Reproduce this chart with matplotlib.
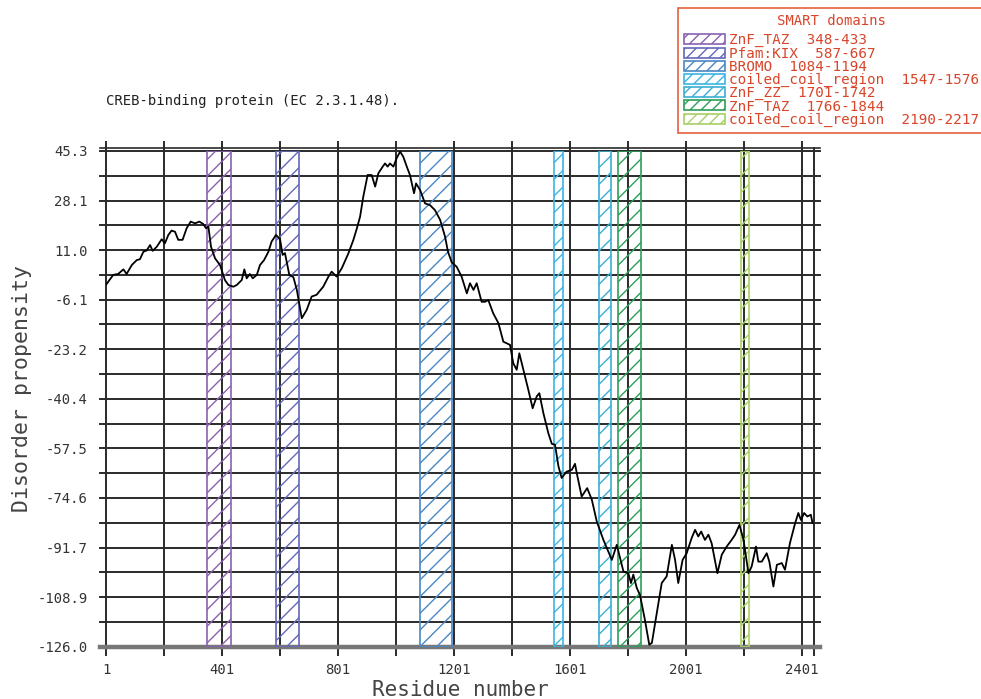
import matplotlib
matplotlib.use("Agg")
import matplotlib.pyplot as plt
import matplotlib.patches as mpatches
import numpy as np

plt.rcParams['font.family'] = ['DejaVu Sans Mono']
plt.rcParams['hatch.linewidth'] = 1.0

# disorder profile
residues = [2, 26, 43, 61, 72, 90, 107, 118, 130, 141, 153, 162, 176, 193, 204, 216, 227, 239,
            250, 265, 279, 293, 308, 323, 336, 346, 354, 363, 377, 394, 411, 423, 440, 452, 469,
            478, 486, 497, 507, 521, 532, 546, 561, 572, 587, 601, 610, 618, 633, 647, 659, 676,
            693, 710, 727, 750, 768, 779, 796, 814, 837, 854, 866, 877, 888, 903, 917, 929, 940,
            955, 963, 972, 980, 992, 1003, 1015, 1026, 1038, 1049, 1063, 1070, 1084, 1101, 1118,
            1135, 1153, 1170, 1180, 1193, 1210, 1227, 1245, 1256, 1268, 1279, 1296, 1308, 1319,
            1336, 1354, 1371, 1394, 1405, 1417, 1426, 1440, 1457, 1472, 1486, 1495, 1509, 1526,
            1538, 1549, 1561, 1572, 1589, 1607, 1618, 1624, 1641, 1660, 1676, 1693, 1716, 1745,
            1762, 1785, 1802, 1811, 1819, 1831, 1842, 1859, 1874, 1883, 1900, 1917, 1934, 1952,
            1963, 1974, 1989, 2003, 2020, 2032, 2043, 2053, 2066, 2078, 2089, 2109, 2124, 2141,
            2158, 2170, 2185, 2199, 2216, 2227, 2242, 2250, 2262, 2279, 2288, 2302, 2314, 2331,
            2342, 2359, 2377, 2388, 2397, 2408, 2419, 2431, 2437]
propensity = [-0.8, 2.5, 2.8, 4.4, 2.8, 5.9, 7.6, 7.9, 10.5, 10.9, 12.8, 10.8, 12.2, 14.8, 13.4,
              16.3, 17.8, 17.4, 14.6, 14.6, 18.6, 20.9, 20.3, 20.9, 20.1, 18.6, 19.2, 12.2, 8.2,
              5.9, 0.7, -1.0, -1.6, -1.0, 0.7, 4.4, 1.3, 2.8, 1.3, 2.5, 5.9, 7.6, 10.5, 14.0,
              16.3, 14.8, 9.4, 10.0, 2.5, 1.7, -2.7, -12.5, -9.6, -5.0, -4.4, -1.6, 1.9, 3.6,
              1.9, 4.8, 10.0, 14.6, 18.6, 22.6, 29.5, 37.0, 37.0, 33.0, 37.6, 39.9, 41.0, 39.9,
              41.0, 39.9, 42.8, 45.1, 43.3, 39.9, 37.0, 30.7, 34.1, 31.8, 27.2, 26.6, 24.9, 21.5,
              15.7, 10.5, 6.8, 5.3, 1.9, -3.9, -0.4, -2.7, -0.4, -6.8, -6.8, -6.2, -10.8, -14.2,
              -20.6, -21.7, -28.0, -30.3, -24.6, -30.3, -37.2, -43.6, -39.5, -38.4, -45.3, -52.2,
              -55.9, -56.2, -63.7, -67.7, -65.5, -64.9, -62.8, -66.0, -74.1, -71.2, -75.2, -82.7,
              -89.1, -96.0, -90.8, -100.0, -100.6, -104.0, -101.1, -105.7, -108.1, -116.7,
              -125.3, -124.7, -114.4, -104.0, -101.7, -90.8, -96.0, -104.0, -96.0, -93.7, -88.5,
              -85.6, -87.9, -86.2, -89.1, -87.3, -90.2, -100.6, -94.2, -91.4, -89.1, -87.3,
              -83.9, -89.1, -100.6, -98.3, -91.4, -96.6, -96.6, -93.7, -96.6, -105.2, -97.7,
              -97.1, -99.4, -90.2, -83.3, -79.8, -82.2, -79.8, -81.0, -80.4, -83.3]

# SMART domains
dom_names = ["ZnF_TAZ", "Pfam:KIX", "BROMO", "coiled_coil_region", "ZnF_ZZ", "ZnF_TAZ",
             "coiled_coil_region"]
dom_start = [348, 587, 1084, 1547, 1701, 1766, 2190]
dom_end = [433, 667, 1194, 1576, 1742, 1844, 2217]
dom_colors = ["#8a62b0", "#6468b8", "#4a88c4", "#3cb4e4", "#3aaed4", "#2e9e5a", "#a8d064"]

yticks = [45.3, 28.1, 11.0, -6.1, -23.2, -40.4, -57.5, -74.6, -91.7, -108.9, -126.0]
xticks = [1, 401, 801, 1201, 1601, 2001, 2401]
xmin, xmax = 1, 2442
ymin, ymax = -126.0, 45.3

fig = plt.figure(figsize=(9.81, 6.99), dpi=100)
ax = fig.add_axes([106 / 981, 1 - 646.7 / 699, 708 / 981, 495.7 / 699])
ax.set_xlim(xmin, xmax)
ax.set_ylim(ymin, ymax)
for s in ax.spines.values():
    s.set_visible(False)

grid_c = "#2a2a2a"
# horizontal grid (labelled + half steps), sticking out a little on both sides
for y in np.linspace(ymin, ymax, 21):
    ax.plot([xmin - 20, xmax + 20], [y, y], color=grid_c, lw=1.4, clip_on=False, zorder=1)
# vertical grid every 200 residues
for x in np.arange(1, 2402, 200):
    ax.plot([x, x], [ymin - 2.8, ymax + 3.0], color=grid_c, lw=1.4, clip_on=False, zorder=1)
ax.plot([xmax, xmax], [ymin - 2.8, ymax + 1.0], color=grid_c, lw=1.4, clip_on=False, zorder=1)
ax.plot([xmin - 20, xmax + 20], [ymax + 1.0, ymax + 1.0], color=grid_c, lw=1.2, clip_on=False)
ax.plot([xmin - 20, xmax + 20], [ymin, ymin], color="#777777", lw=3.2, clip_on=False, zorder=1)

for name, a, b, c in zip(dom_names, dom_start, dom_end, dom_colors):
    ax.axvspan(a, b, facecolor="none", edgecolor=c, hatch="//", lw=1.2, zorder=2)

ax.plot(residues, propensity, color="black", lw=1.3, zorder=3)

ax.set_yticks(yticks)
ax.set_yticklabels(["%.1f" % v for v in yticks])
ax.set_xticks(xticks)
ax.set_xticklabels([str(v) for v in xticks])
ax.tick_params(axis="y", length=0, pad=13, labelsize=10, colors="#333333")
ax.tick_params(axis="x", length=0, pad=12, labelsize=10, colors="#333333")

fig.text(460 / 981, 1 - 690 / 699, "Residue number", ha="center", va="center",
         fontsize=15, color="#444444")
fig.text(22 / 981, 1 - 389 / 699, "Disorder propensity", ha="center", va="center",
         rotation=90, fontsize=15.5, color="#444444")
fig.text(106 / 981, 1 - 101 / 699, "CREB-binding protein (EC 2.3.1.48).", ha="left",
         va="center", fontsize=10, color="#222222")

handles = [mpatches.Patch(facecolor="none", edgecolor=c, hatch="///", lw=1.2) for c in dom_colors]
labels = ["%-s  %d-%d" % (n, a, b) for n, a, b in zip(dom_names, dom_start, dom_end)]
leg = fig.legend(handles, labels, loc="upper left", bbox_to_anchor=(678 / 981, 1 - 8 / 699),
                 title="SMART domains", fontsize=10.25, title_fontsize=10, frameon=True,
                 fancybox=False, edgecolor="#e4603e", framealpha=1, borderpad=0.4,
                 handlelength=2.9, handleheight=0.7, handletextpad=0.3, labelspacing=-0.06,
                 borderaxespad=0)
leg._legend_box.sep = 4
leg.get_frame().set_linewidth(1.2)
leg.get_title().set_color("#d8452a")
for t in leg.get_texts():
    t.set_color("#d8452a")

fig.savefig("out.png", dpi=100)
